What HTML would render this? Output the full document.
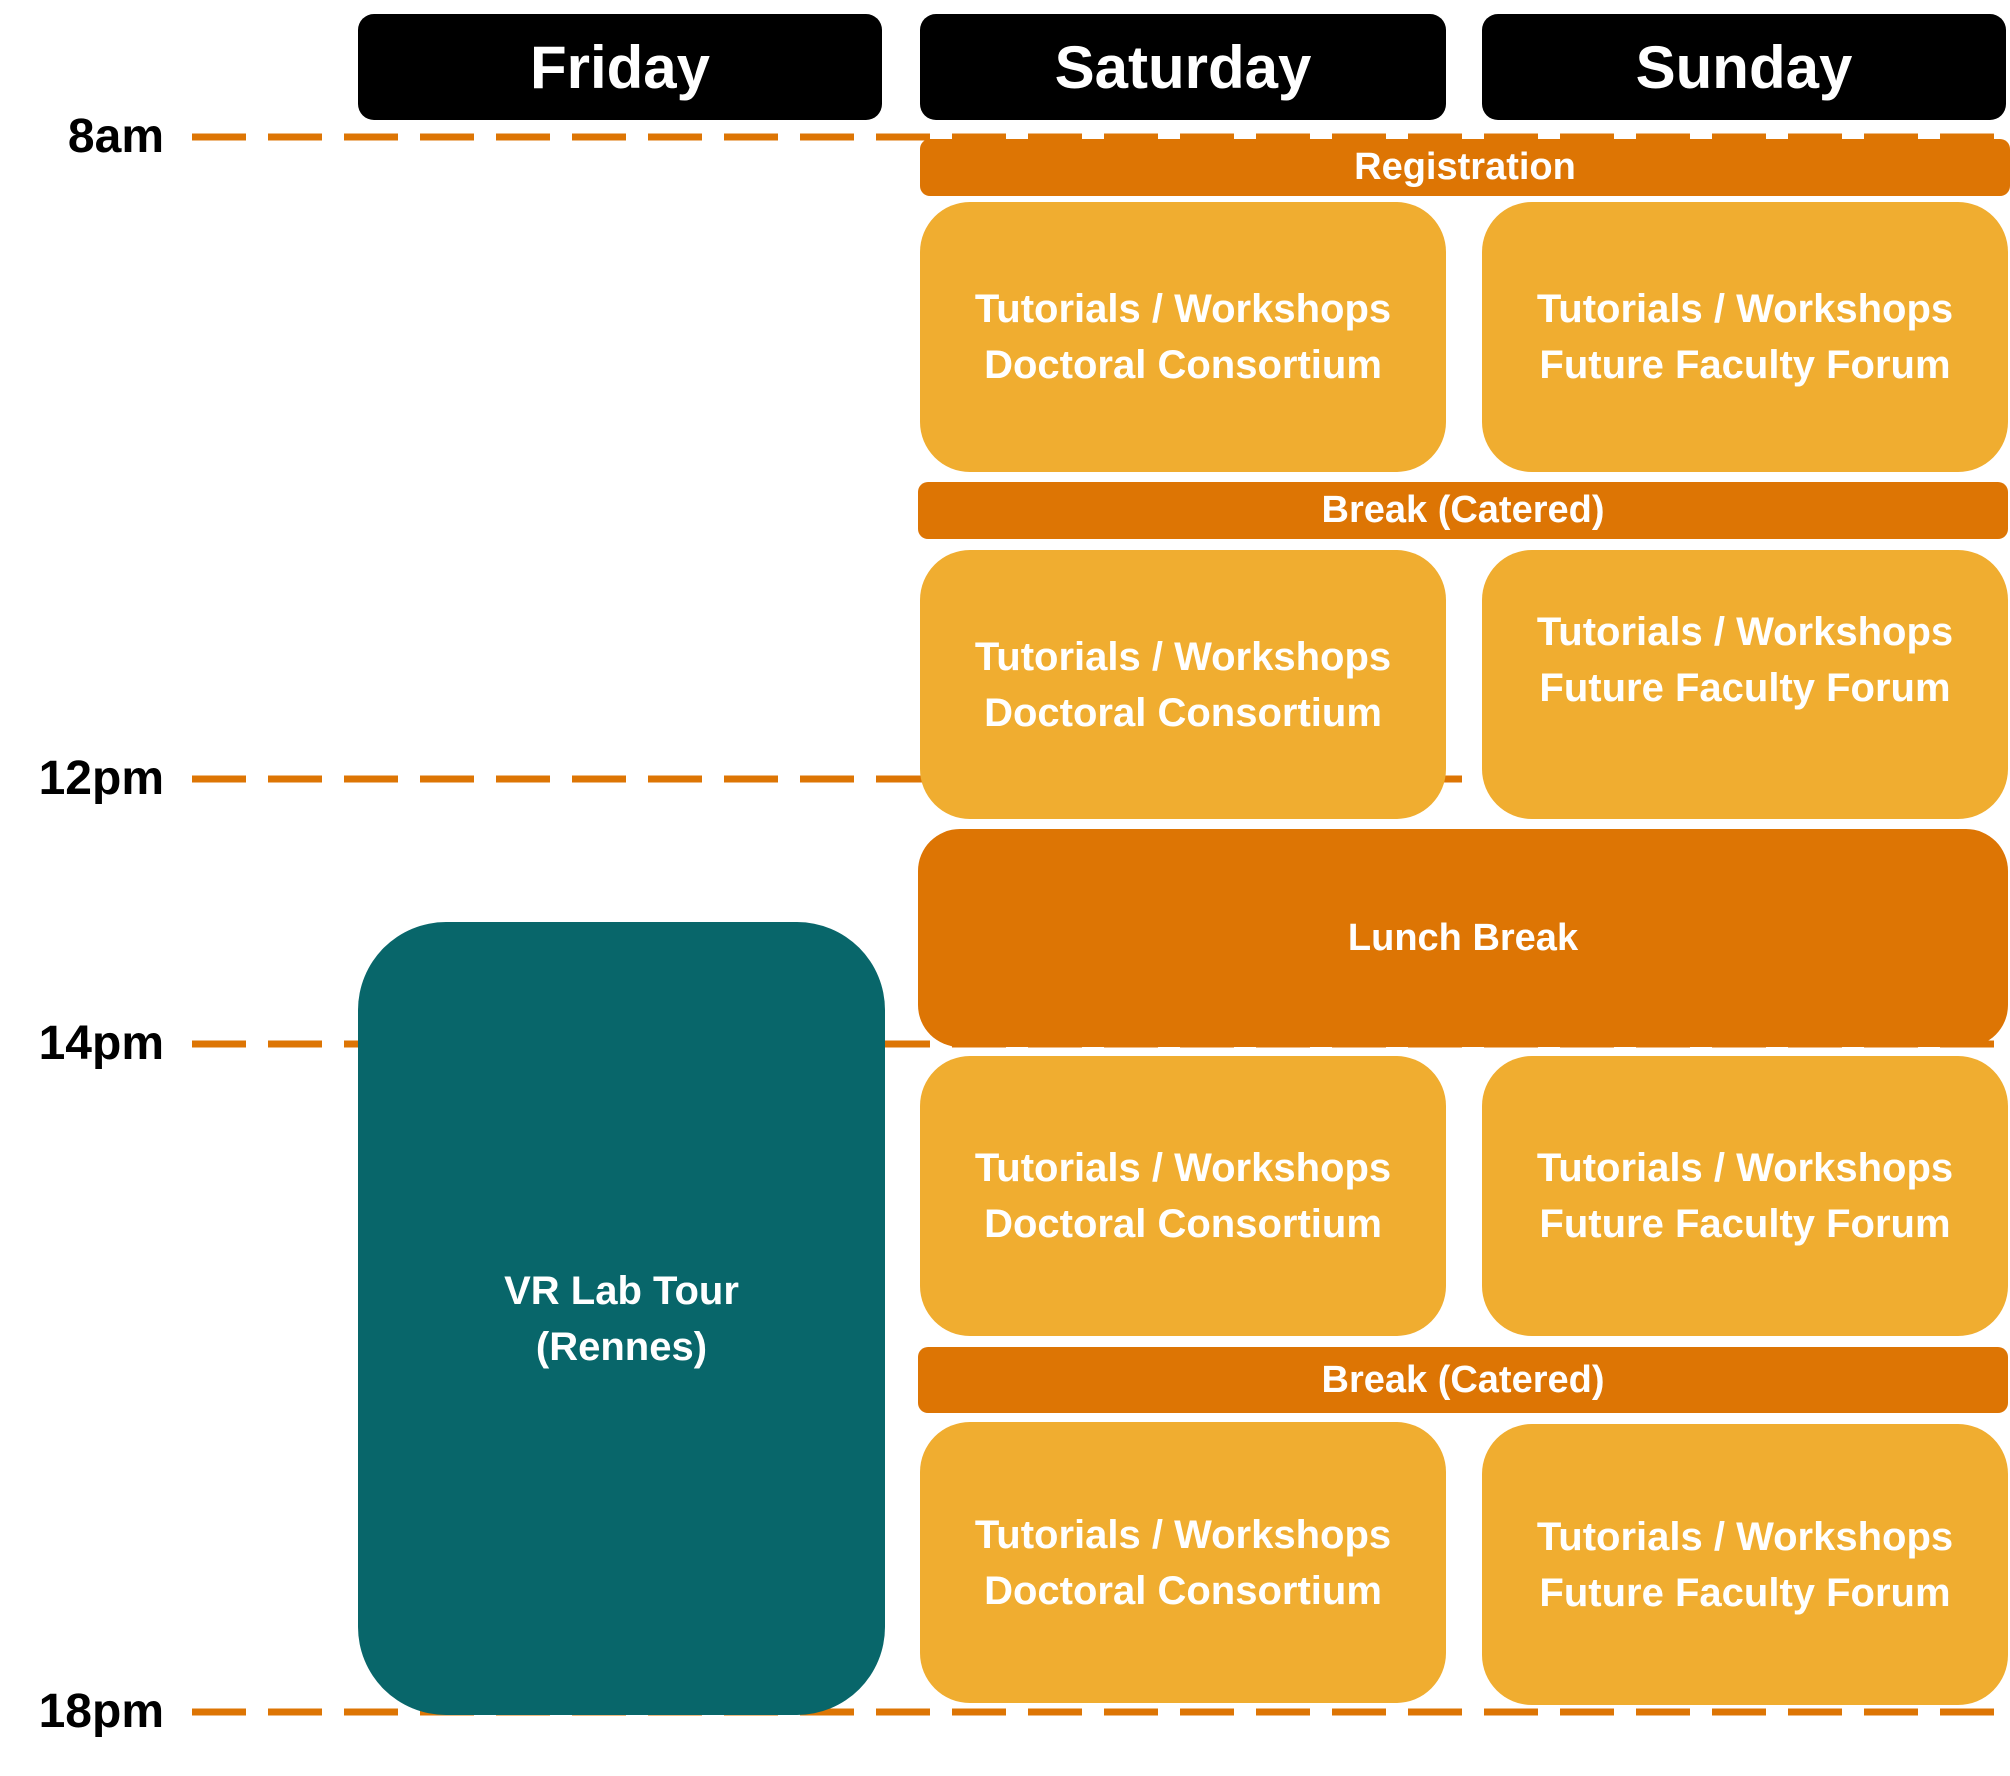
<!DOCTYPE html>
<html><head><meta charset="utf-8"><style>
body{margin:0;width:2010px;height:1776px;background:#fff;position:relative;overflow:hidden;font-family:"Liberation Sans",sans-serif;font-weight:bold}
.b{position:absolute;display:flex;align-items:center;justify-content:center;text-align:center;color:#fff;box-sizing:border-box}
.h{background:#000;border-radius:16px;font-size:60px;top:14px;height:106px}
.o{background:#DD7504;font-size:38px;border-radius:10px;left:918px;width:1090px}
.y{background:#F0AD30;font-size:40px;line-height:56px;border-radius:50px;width:526px}
.s{left:920px}.u{left:1482px}
.t{position:absolute;right:1846px;font-size:48px;color:#000;line-height:1}
</style></head><body>
<svg width="2010" height="1776" style="position:absolute;left:0;top:0">
<g stroke="#DD7504" stroke-width="7" stroke-dasharray="54 22">
<line x1="192" y1="137" x2="2006" y2="137"/>
<line x1="192" y1="779" x2="2006" y2="779"/>
<line x1="192" y1="1044" x2="2006" y2="1044"/>
<line x1="192" y1="1712" x2="2006" y2="1712"/>
</g></svg>
<div class="t" style="top:113px">8am</div>
<div class="t" style="top:755px">12pm</div>
<div class="t" style="top:1020px">14pm</div>
<div class="t" style="top:1688px">18pm</div>
<div class="b h" style="left:358px;width:524px">Friday</div>
<div class="b h" style="left:920px;width:526px">Saturday</div>
<div class="b h" style="left:1482px;width:524px">Sunday</div>
<div class="b o" style="top:139px;height:57px;left:920px">Registration</div>
<div class="b y s" style="top:202px;height:270px">Tutorials / Workshops<br>Doctoral Consortium</div>
<div class="b y u" style="top:202px;height:270px">Tutorials / Workshops<br>Future Faculty Forum</div>
<div class="b o" style="top:482px;height:57px">Break (Catered)</div>
<div class="b y s" style="top:550px;height:269px">Tutorials / Workshops<br>Doctoral Consortium</div>
<div class="b y u" style="top:550px;height:269px;padding-bottom:50px">Tutorials / Workshops<br>Future Faculty Forum</div>
<div class="b o" style="top:829px;height:218px;border-radius:42px">Lunch Break</div>
<div class="b y s" style="top:1056px;height:280px">Tutorials / Workshops<br>Doctoral Consortium</div>
<div class="b y u" style="top:1056px;height:280px">Tutorials / Workshops<br>Future Faculty Forum</div>
<div class="b o" style="top:1347px;height:66px">Break (Catered)</div>
<div class="b y s" style="top:1422px;height:281px">Tutorials / Workshops<br>Doctoral Consortium</div>
<div class="b y u" style="top:1424px;height:281px">Tutorials / Workshops<br>Future Faculty Forum</div>
<div class="b" style="left:358px;top:922px;width:527px;height:793px;background:#08666A;border-radius:88px;font-size:40px;line-height:56px">VR Lab Tour<br>(Rennes)</div>
</body></html>
